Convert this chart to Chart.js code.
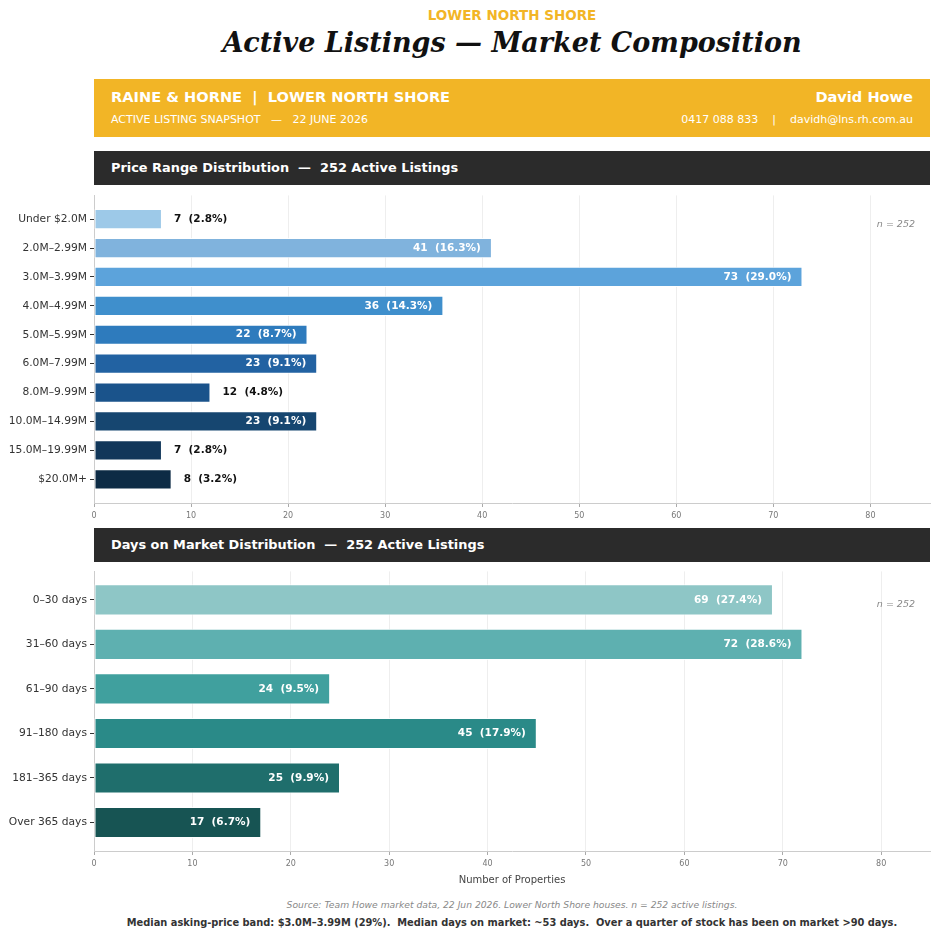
<!DOCTYPE html>
<html>
<head>
<meta charset="utf-8">
<script src="https://cdn.jsdelivr.net/npm/chart.js@4.4.1/dist/chart.umd.min.js"></script>
<style>
  body { margin: 0; background: #fff; font-family: "DejaVu Sans", sans-serif; }
  #page { position: relative; width: 940px; height: 940px; overflow: hidden; }
  .abs { position: absolute; white-space: pre; }
  .center { left: 94px; width: 836px; text-align: center; }
  canvas { position: absolute; left: 0; }
</style>
</head>
<body>
<div id="page">
  <div class="abs center" style="top:7px;font-size:13.5px;font-weight:bold;color:#F2B526;">LOWER NORTH SHORE</div>
  <div class="abs center" style="top:27px;font-family:'DejaVu Serif',serif;font-size:27px;font-weight:bold;font-style:italic;color:#111;">Active Listings — Market Composition</div>

  <div class="abs" style="left:94px;top:79px;width:836px;height:58px;background:#F2B526;"></div>
  <div class="abs" style="left:111px;top:88px;font-size:14.6px;font-weight:bold;color:#fff;">RAINE &amp; HORNE  |  LOWER NORTH SHORE</div>
  <div class="abs" style="left:111px;top:113px;font-size:11px;color:#fff;">ACTIVE LISTING SNAPSHOT   —   22 JUNE 2026</div>
  <div class="abs" style="right:27px;top:88px;font-size:14.6px;font-weight:bold;color:#fff;text-align:right;">David Howe</div>
  <div class="abs" style="right:27px;top:113px;font-size:11px;color:#fff;text-align:right;">0417 088 833    |    davidh@lns.rh.com.au</div>

  <div class="abs" style="left:94px;top:151px;width:836px;height:34px;background:#2B2B2B;"></div>
  <div class="abs" style="left:111px;top:160px;font-size:12.9px;font-weight:bold;color:#fff;">Price Range Distribution  —  252 Active Listings</div>

  <div class="abs" style="left:94px;top:528px;width:836px;height:34px;background:#2B2B2B;"></div>
  <div class="abs" style="left:111px;top:537px;font-size:12.9px;font-weight:bold;color:#fff;">Days on Market Distribution  —  252 Active Listings</div>

  <canvas id="priceChart" width="940" height="339" style="top:186px;"></canvas>
  <canvas id="domChart" width="940" height="328" style="top:562px;"></canvas>

  <div class="abs center" style="top:899px;font-size:9.2px;font-style:italic;color:#888;">Source: Team Howe market data, 22 Jun 2026. Lower North Shore houses. n = 252 active listings.</div>
  <div class="abs center" style="top:917px;font-size:9.85px;font-weight:bold;color:#333;">Median asking-price band: $3.0M–3.99M (29%).  Median days on market: ~53 days.  Over a quarter of stock has been on market &gt;90 days.</div>
</div>

<script>
const totalListings = 252;

const priceBands = ['Under $2.0M', '2.0M–2.99M', '3.0M–3.99M', '4.0M–4.99M', '5.0M–5.99M',
    '6.0M–7.99M', '8.0M–9.99M', '10.0M–14.99M', '15.0M–19.99M', '$20.0M+'];
const priceCounts = [7, 41, 73, 36, 22, 23, 12, 23, 7, 8];
const priceColors = ['#9DC9E8', '#80B3DD', '#5CA3DB', '#3F8FCC', '#2E7BBD',
    '#2262A2', '#1A538B', '#164670', '#113659', '#0D2B45'];

const domBands = ['0–30 days', '31–60 days', '61–90 days', '91–180 days', '181–365 days', 'Over 365 days'];
const domCounts = [69, 72, 24, 45, 25, 17];
const domColors = ['#8EC6C6', '#5EB0B0', '#40A09E', '#2A8A88', '#1F6E6C', '#175453'];

const xTicks = [0, 10, 20, 30, 40, 50, 60, 70, 80];

// labels: inside the bar (white) when it is long enough, otherwise just after it
const valueLabels = {
    id: 'valueLabels',
    afterDatasetsDraw(chart, args, opts) {
        const ctx = chart.ctx;
        const ds = chart.data.datasets[0];
        const meta = chart.getDatasetMeta(0);
        const max = Math.max(...ds.data.map(d => d.x));
        ctx.save();
        ctx.font = 'bold 10.5px "DejaVu Sans"';
        ctx.textBaseline = 'middle';
        meta.data.forEach((bar, i) => {
            const v = ds.data[i].x;
            const txt = v + '  (' + (v / totalListings * 100).toFixed(1) + '%)';
            if (v > max * 0.2) {
                ctx.fillStyle = '#fff';
                ctx.textAlign = 'right';
                ctx.fillText(txt, bar.x - 11, bar.y);
            } else {
                ctx.fillStyle = '#111';
                ctx.textAlign = 'left';
                ctx.fillText(txt, bar.x + 12, bar.y);
            }
        });
        const area = chart.chartArea;
        ctx.font = 'italic 9.5px "DejaVu Sans"';
        ctx.fillStyle = '#888';
        ctx.textAlign = 'right';
        ctx.fillText('n = ' + totalListings, area.right - 15, area.top + opts.nOffset);
        ctx.restore();
    }
};

function makeChart(id, labels, values, colors, yMin, yMax, axisHeight, nOffset, xTitle) {
    const max = Math.max(...values);
    return new Chart(document.getElementById(id), {
        type: 'bar',
        data: {
            datasets: [{
                data: values.map((v, i) => ({ x: v, y: i })),
                backgroundColor: colors,
                borderColor: 'rgba(255,255,255,0.85)',
                borderWidth: 1,
                borderSkipped: false,
                barPercentage: 0.7,
                categoryPercentage: 1
            }]
        },
        options: {
            indexAxis: 'y',
            responsive: false,
            animation: false,
            layout: { padding: { top: 0, right: 10, left: 0, bottom: 0 } },
            scales: {
                x: {
                    type: 'linear',
                    min: 0,
                    max: max * 1.18,
                    afterBuildTicks: (s) => { s.ticks = xTicks.map(v => ({ value: v })); },
                    afterFit: (s) => { s.height = axisHeight; },
                    grid: { color: '#EEEEEE', tickColor: '#AAAAAA', tickLength: 4 },
                    border: { color: '#CCCCCC' },
                    ticks: { font: { family: 'DejaVu Sans', size: 8 }, color: '#777', padding: 4, maxRotation: 0 },
                    title: {
                        display: !!xTitle,
                        text: xTitle || '',
                        font: { family: 'DejaVu Sans', size: 10 },
                        color: '#444',
                        padding: { top: 4, bottom: 4 }
                    }
                },
                y: {
                    type: 'linear',
                    reverse: true,
                    offset: false,
                    min: yMin,
                    max: yMax,
                    afterBuildTicks: (s) => { s.ticks = labels.map((_, i) => ({ value: i })); },
                    afterFit: (s) => { s.width = 94; },
                    grid: { drawOnChartArea: false, offset: false, color: '#333', tickLength: 4 },
                    border: { color: '#CCCCCC' },
                    ticks: {
                        font: { family: 'DejaVu Sans', size: 10.7 },
                        color: '#333',
                        padding: 3,
                        callback: (v) => labels[v]
                    }
                }
            },
            plugins: {
                legend: { display: false },
                tooltip: { enabled: false },
                valueLabels: { nOffset: nOffset }
            }
        },
        plugins: [valueLabels]
    });
}

makeChart('priceChart', priceBands, priceCounts, priceColors, -0.82, 9.82, 22, 29, null);
makeChart('domChart', domBands, domCounts, domColors, -0.64, 5.64, 39, 33, 'Number of Properties');
</script>
</body>
</html>
